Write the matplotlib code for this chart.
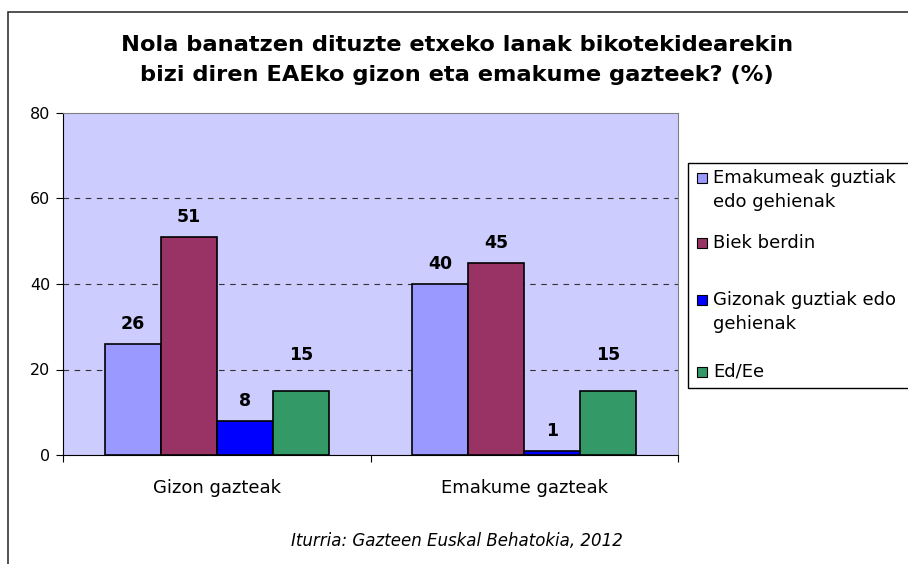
import matplotlib.pyplot as plt
import numpy as np
from matplotlib.patches import Rectangle

# data
categories = ['Gizon gazteak', 'Emakume gazteak']
series = ['Emakumeak guztiak\nedo gehienak', 'Biek berdin',
          'Gizonak guztiak edo\ngehienak', 'Ed/Ee']
values = [[26, 40],
          [51, 45],
          [8, 1],
          [15, 15]]
yticks = [0, 20, 40, 60, 80]

colors = ['#9999FF', '#993366', '#0000FF', '#339966']
label_pad = [20, 20, 20, 36]   # pixel offset of value labels per series

plt.rcParams['font.family'] = 'DejaVu Sans'

W, H = 908, 564
fig = plt.figure(figsize=(W / 100, H / 100), dpi=100)
fig.patch.set_facecolor('white')

# outer chart frame (runs off right/bottom edge)
fig.patches.append(Rectangle((8 / W, -0.1), 1.1, 1 - 12 / H + 0.1,
                             transform=fig.transFigure, fill=False,
                             edgecolor='#333333', linewidth=1.2))

ax = fig.add_axes([63 / W, 1 - 455 / H, 615 / W, 342 / H])
ax.set_facecolor('#CCCCFF')

x = np.arange(len(categories))
bw = 0.182
for i, (vals, c) in enumerate(zip(values, colors)):
    pos = x + (i - 1.5) * bw
    ax.bar(pos, vals, width=bw, color=c, edgecolor='black', linewidth=1.2, zorder=3)
    for p, v in zip(pos, vals):
        ax.annotate(str(v), (p, v), xytext=(0, label_pad[i] * 0.72),
                    textcoords='offset points', ha='center', va='center',
                    fontsize=12.5, fontweight='bold', zorder=4)

ax.set_xlim(-0.5, 1.5)
ax.set_ylim(0, 80)
ax.set_yticks(yticks)
ax.tick_params(axis='y', direction='out', length=5, labelsize=11.5, pad=4)
for yv in yticks[1:-1]:
    ax.axhline(yv, color='#333333', linestyle=(0, (5, 5)), linewidth=0.8, zorder=1)

ax.set_xticks([-0.5, 0.5, 1.5])
ax.set_xticklabels([])
ax.tick_params(axis='x', direction='out', length=5)
ax.set_xticks(x, minor=True)
ax.set_xticklabels(categories, minor=True, fontsize=13)
ax.tick_params(axis='x', which='minor', length=0, pad=17)

for s in ['top', 'right']:
    ax.spines[s].set_color('#808080')
for s in ['left', 'bottom']:
    ax.spines[s].set_color('black')

# title and source
fig.text(457 / W, 1 - 60 / H,
         'Nola banatzen dituzte etxeko lanak bikotekidearekin\n'
         'bizi diren EAEko gizon eta emakume gazteek? (%)',
         ha='center', va='center', fontsize=16.2, fontweight='bold',
         linespacing=1.6)
fig.text(457 / W, 1 - 541 / H, 'Iturria: Gazteen Euskal Behatokia, 2012',
         ha='center', va='center', fontsize=12, style='italic')

# legend box (runs off right edge)
fig.patches.append(Rectangle((688 / W, 1 - 388 / H), 0.3, 225 / H,
                             transform=fig.transFigure, facecolor='white',
                             edgecolor='black', linewidth=1.0))
leg_y = [190, 243, 312, 372]
for lab, c, yy in zip(series, colors, leg_y):
    first_y = yy - 12 if '\n' in lab else yy
    fig.patches.append(Rectangle((697 / W, 1 - (first_y + 5) / H), 10 / W, 10 / H,
                                 transform=fig.transFigure, facecolor=c,
                                 edgecolor='black', linewidth=0.8))
    fig.text(713 / W, 1 - yy / H, lab, ha='left', va='center', fontsize=13,
             linespacing=1.4)

fig.savefig('out.png', dpi=100)
